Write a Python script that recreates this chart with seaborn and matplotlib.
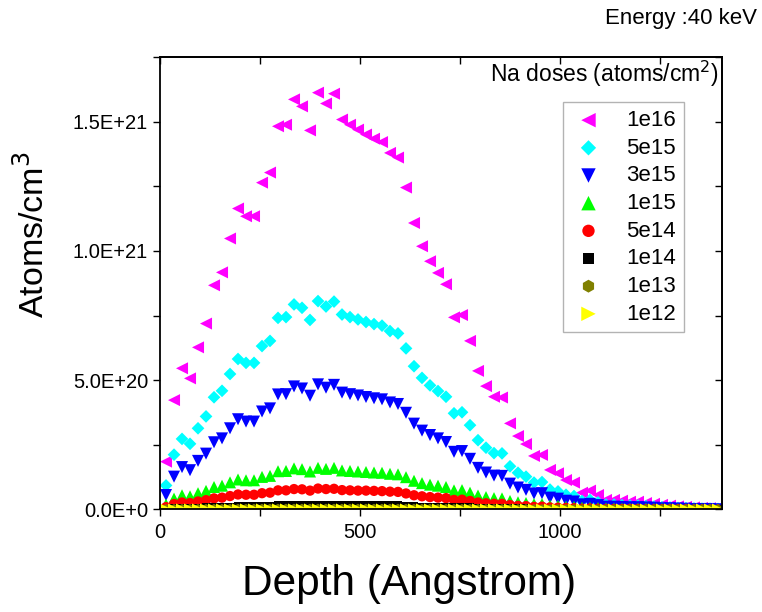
import numpy as np
import matplotlib
matplotlib.use("Agg")
import matplotlib.pyplot as plt
import seaborn as sns
from matplotlib.ticker import MultipleLocator, FuncFormatter

# Depth bins (Angstrom)
depth = [15, 35, 55, 75, 95, 115, 135, 155, 175, 195,
         215, 235, 255, 275, 295, 315, 335, 355, 375, 395,
         415, 435, 455, 475, 495, 515, 535, 555, 575, 595,
         615, 635, 655, 675, 695, 715, 735, 755, 775, 795,
         815, 835, 855, 875, 895, 915, 935, 955, 975, 995,
         1015, 1035, 1055, 1075, 1095, 1115, 1135, 1155, 1175, 1195,
         1215, 1235, 1255, 1275, 1295, 1315, 1335, 1355, 1375, 1395]

# Na concentration, in units of 1e20 atoms/cm3
na_1e16 = [1.85, 4.23, 5.46, 5.07, 6.27, 7.19, 8.67, 9.17, 10.48, 11.64,
           11.34, 11.34, 12.64, 13.03, 14.82, 14.88, 15.86, 15.59, 14.66, 16.12,
           15.70, 16.08, 15.08, 14.88, 14.69, 14.50, 14.34, 14.21, 13.79, 13.61,
           12.45, 11.08, 10.18, 9.60, 9.15, 8.71, 7.43, 7.52, 6.52, 5.36,
           4.77, 4.36, 4.33, 3.33, 2.84, 2.53, 2.07, 2.11, 1.53, 1.40,
           1.14, 1.04, 0.65, 0.73, 0.56, 0.37, 0.37, 0.34, 0.30, 0.30,
           0.25, 0.22, 0.18, 0.15, 0.12, 0.10, 0.08, 0.06, 0.05, 0.04]
na_5e15 = [0.93, 2.12, 2.73, 2.54, 3.14, 3.60, 4.34, 4.59, 5.24, 5.82,
           5.67, 5.67, 6.32, 6.52, 7.41, 7.44, 7.93, 7.80, 7.33, 8.06,
           7.85, 8.04, 7.54, 7.44, 7.35, 7.25, 7.17, 7.11, 6.90, 6.81,
           6.23, 5.54, 5.09, 4.80, 4.58, 4.36, 3.72, 3.76, 3.26, 2.68,
           2.39, 2.18, 2.17, 1.67, 1.42, 1.27, 1.04, 1.06, 0.77, 0.70,
           0.57, 0.52, 0.33, 0.37, 0.28, 0.19, 0.19, 0.17, 0.15, 0.15,
           0.13, 0.11, 0.09, 0.08, 0.06, 0.05, 0.04, 0.03, 0.03, 0.02]
na_3e15 = [0.56, 1.27, 1.64, 1.52, 1.88, 2.16, 2.60, 2.75, 3.14, 3.49,
           3.40, 3.40, 3.79, 3.91, 4.45, 4.46, 4.76, 4.68, 4.40, 4.84,
           4.71, 4.82, 4.52, 4.46, 4.41, 4.35, 4.30, 4.26, 4.14, 4.08,
           3.74, 3.32, 3.05, 2.88, 2.75, 2.61, 2.23, 2.26, 1.96, 1.61,
           1.43, 1.31, 1.30, 1.00, 0.85, 0.76, 0.62, 0.63, 0.46, 0.42,
           0.34, 0.31, 0.20, 0.22, 0.17, 0.11, 0.11, 0.10, 0.09, 0.09,
           0.08, 0.07, 0.05, 0.05, 0.04, 0.03, 0.02, 0.02, 0.02, 0.01]
na_1e15 = [0.19, 0.42, 0.55, 0.51, 0.63, 0.72, 0.87, 0.92, 1.05, 1.16,
           1.13, 1.13, 1.26, 1.30, 1.48, 1.49, 1.59, 1.56, 1.47, 1.61,
           1.57, 1.61, 1.51, 1.49, 1.47, 1.45, 1.43, 1.42, 1.38, 1.36,
           1.25, 1.11, 1.02, 0.96, 0.92, 0.87, 0.74, 0.75, 0.65, 0.54,
           0.48, 0.44, 0.43, 0.33, 0.28, 0.25, 0.21, 0.21, 0.15, 0.14,
           0.11, 0.10, 0.07, 0.07, 0.06, 0.04, 0.04, 0.03, 0.03, 0.03,
           0.03, 0.02, 0.02, 0.02, 0.01, 0.01, 0.01, 0.01, 0.01, 0.00]
na_5e14 = [0.09, 0.21, 0.27, 0.25, 0.31, 0.36, 0.43, 0.46, 0.52, 0.58,
           0.57, 0.57, 0.63, 0.65, 0.74, 0.74, 0.79, 0.78, 0.73, 0.81,
           0.79, 0.80, 0.75, 0.74, 0.73, 0.73, 0.72, 0.71, 0.69, 0.68,
           0.62, 0.55, 0.51, 0.48, 0.46, 0.44, 0.37, 0.38, 0.33, 0.27,
           0.24, 0.22, 0.22, 0.17, 0.14, 0.13, 0.10, 0.11, 0.08, 0.07,
           0.06, 0.05, 0.03, 0.04, 0.03, 0.02, 0.02, 0.02, 0.02, 0.02,
           0.01, 0.01, 0.01, 0.01, 0.01, 0.01, 0.00, 0.00, 0.00, 0.00]
na_1e14 = [0.02, 0.04, 0.05, 0.05, 0.06, 0.07, 0.09, 0.09, 0.10, 0.12,
           0.11, 0.11, 0.13, 0.13, 0.15, 0.15, 0.16, 0.16, 0.15, 0.16,
           0.16, 0.16, 0.15, 0.15, 0.15, 0.15, 0.14, 0.14, 0.14, 0.14,
           0.12, 0.11, 0.10, 0.10, 0.09, 0.09, 0.07, 0.08, 0.07, 0.05,
           0.05, 0.04, 0.04, 0.03, 0.03, 0.03, 0.02, 0.02, 0.02, 0.01,
           0.01, 0.01, 0.01, 0.01, 0.01, 0.00, 0.00, 0.00, 0.00, 0.00,
           0.00, 0.00, 0.00, 0.00, 0.00, 0.00, 0.00, 0.00, 0.00, 0.00]
na_1e13 = [0.002, 0.004, 0.005, 0.005, 0.006, 0.007, 0.009, 0.009, 0.010, 0.012,
           0.011, 0.011, 0.013, 0.013, 0.015, 0.015, 0.016, 0.016, 0.015, 0.016,
           0.016, 0.016, 0.015, 0.015, 0.015, 0.015, 0.014, 0.014, 0.014, 0.014,
           0.012, 0.011, 0.010, 0.010, 0.009, 0.009, 0.007, 0.008, 0.007, 0.005,
           0.005, 0.004, 0.004, 0.003, 0.003, 0.003, 0.002, 0.002, 0.002, 0.001,
           0.001, 0.001, 0.001, 0.001, 0.001, 0.000, 0.000, 0.000, 0.000, 0.000,
           0.000, 0.000, 0.000, 0.000, 0.000, 0.000, 0.000, 0.000, 0.000, 0.000]
na_1e12 = [0.000, 0.000, 0.001, 0.001, 0.001, 0.001, 0.001, 0.001, 0.001, 0.001,
           0.001, 0.001, 0.001, 0.001, 0.001, 0.001, 0.002, 0.002, 0.001, 0.002,
           0.002, 0.002, 0.002, 0.001, 0.001, 0.001, 0.001, 0.001, 0.001, 0.001,
           0.001, 0.001, 0.001, 0.001, 0.001, 0.001, 0.001, 0.001, 0.001, 0.001,
           0.000, 0.000, 0.000, 0.000, 0.000, 0.000, 0.000, 0.000, 0.000, 0.000,
           0.000, 0.000, 0.000, 0.000, 0.000, 0.000, 0.000, 0.000, 0.000, 0.000,
           0.000, 0.000, 0.000, 0.000, 0.000, 0.000, 0.000, 0.000, 0.000, 0.000]

dose_labels = ["1e16", "5e15", "3e15", "1e15", "5e14", "1e14", "1e13", "1e12"]
series = [na_1e16, na_5e15, na_3e15, na_1e15, na_5e14, na_1e14, na_1e13, na_1e12]
colors = ["#ff00ff", "#00ffff", "#0000ff", "#00ff00", "#ff0000", "#000000", "#808000", "#ffff00"]
markers = ["<", "D", "v", "^", "o", "s", "h", ">"]
sizes = [75, 42, 75, 75, 55, 40, 60, 75]

sns.set_style("ticks")
plt.rcParams["font.family"] = ["Liberation Sans", "DejaVu Sans"]
plt.rcParams["text.color"] = "black"
plt.rcParams["axes.labelcolor"] = "black"
plt.rcParams["xtick.color"] = "black"
plt.rcParams["ytick.color"] = "black"

fig = plt.figure(figsize=(7.62, 6.12), dpi=100)
ax = fig.add_axes([0.21, 0.1675, 0.7375, 0.7394])

for vals, lab, c, m, s in zip(series, dose_labels, colors, markers, sizes):
    sns.scatterplot(x=depth, y=np.array(vals) * 1e20, marker=m, color=c, s=s,
                    linewidth=0, edgecolor="none", label=lab, ax=ax, legend=False)

ax.set_xlim(0, 1405)
ax.set_ylim(0, 1.75e21)


def sci_fmt(v, pos):
    if v == 0:
        return "0.0E+0"
    e = int(np.floor(np.log10(abs(v))))
    return f"{v / 10**e:.1f}E+{e}"


ax.xaxis.set_major_locator(MultipleLocator(500))
ax.xaxis.set_minor_locator(MultipleLocator(250))
ax.yaxis.set_major_locator(MultipleLocator(5e20))
ax.yaxis.set_minor_locator(MultipleLocator(2.5e20))
ax.yaxis.set_major_formatter(FuncFormatter(sci_fmt))
ax.tick_params(which="both", direction="out", length=5, width=1, color="black",
               labelsize=14.5, labelcolor="black", top=False, right=False)
ax.tick_params(axis="x", pad=5)

# mirrored ticks on top/right, pointing into the plot
top = ax.secondary_xaxis("top")
top.xaxis.set_major_locator(MultipleLocator(250))
top.tick_params(direction="in", length=5, width=1, labeltop=False)
right = ax.secondary_yaxis("right")
right.yaxis.set_major_locator(MultipleLocator(2.5e20))
right.tick_params(direction="in", length=5, width=1, labelright=False)

for a in (ax, top, right):
    for sp in a.spines.values():
        sp.set_linewidth(1.3)
        sp.set_color("black")

ax.set_xlabel("Depth (Angstrom)", fontsize=30.5)
ax.xaxis.set_label_coords(0.444, -0.12)
ax.xaxis.label.set_va("top")
ax.set_ylabel("Atoms/cm$^3$", fontsize=24.5)
ax.yaxis.set_label_coords(-0.195, 0.607)

leg = ax.legend(loc="upper right", bbox_to_anchor=(0.932, 0.900), borderaxespad=0,
                fontsize=16, frameon=True, fancybox=False, edgecolor="#a0a0a0",
                labelspacing=0.3, handletextpad=0.9, borderpad=0.35,
                handlelength=1.6, markerscale=1.2)
leg.get_frame().set_linewidth(1.0)

ax.text(0.995, 0.962, "Na doses (atoms/cm$^2$)", transform=ax.transAxes,
        ha="right", va="center", fontsize=16.5)
fig.text(0.993, 0.97, "Energy :40 keV", ha="right", va="center", fontsize=16)

fig.savefig("out.png", dpi=100)
